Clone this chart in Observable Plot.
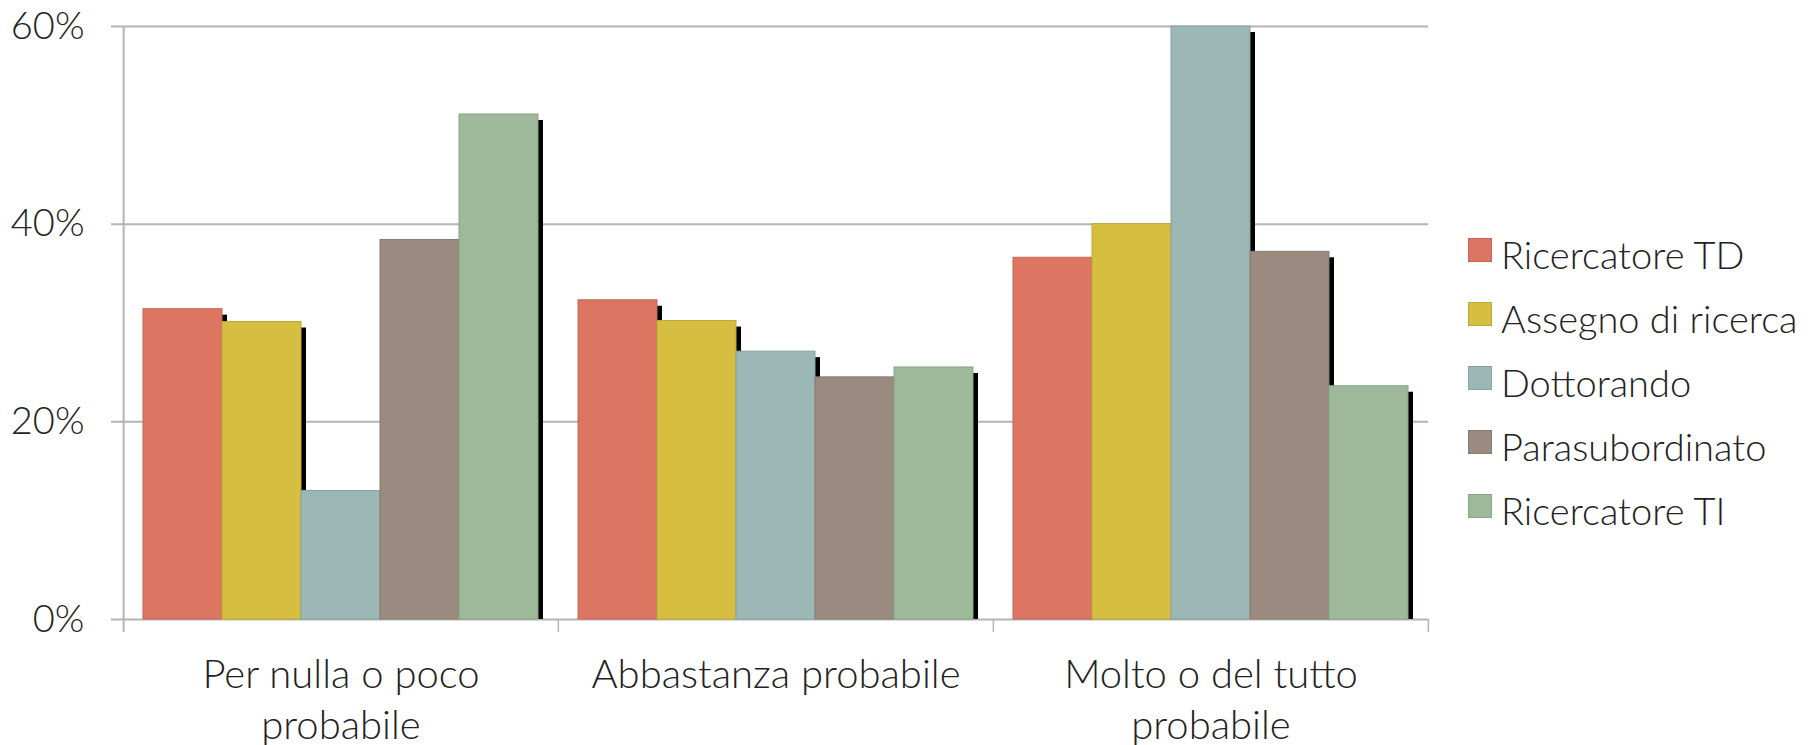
<!DOCTYPE html>
<html>
<head>
<meta charset="utf-8">
<script src="https://cdn.jsdelivr.net/npm/d3@7"></script>
<script src="https://cdn.jsdelivr.net/npm/@observablehq/plot@0.6"></script>
<style>
  html, body { margin: 0; padding: 0; background: #fff; }
  #wrap { position: relative; width: 1812px; height: 745px; overflow: hidden; font-family: Lato, "Open Sans", sans-serif; font-weight: 300; }
  #wrap svg { position: absolute; left: 0; top: 0; font-family: Lato, "Open Sans", sans-serif; font-weight: 300; }
  #legend { position: absolute; left: 1468px; top: 238px; }
  .row { position: absolute; left: 0; height: 40px; width: 340px; }
  .sw { position: absolute; left: 0; top: 0; width: 22px; height: 22px; border: 1px solid; }
  .lbl { position: absolute; left: 33px; top: -3px; font-size: 38px; line-height: 38px; color: #222; white-space: nowrap; }
</style>
</head>
<body>
<div id="wrap"><div id="legend"></div></div>
<script>
// ---- data ----
const categories = ["Per nulla o poco\nprobabile", "Abbastanza probabile", "Molto o del tutto\nprobabile"];
const series = ["Ricercatore TD", "Assegno di ricerca", "Dottorando", "Parasubordinato", "Ricercatore TI"];
const colors = ["#dd7563", "#d5be40", "#9bb8b7", "#9a8a7f", "#9db99a"];
const valuesTD = [31.4, 32.3, 36.6];
const valuesAssegno = [30.1, 30.2, 40.0];
const valuesDottorando = [13.0, 27.1, 60.0];
const valuesPara = [38.4, 24.5, 37.2];
const valuesTI = [51.1, 25.5, 23.6];
const yTicks = [0, 20, 40, 60];

const seriesValues = [valuesTD, valuesAssegno, valuesDottorando, valuesPara, valuesTI];
const rows = [];
categories.forEach((c, i) => series.forEach((s, j) => rows.push({cat: c, series: s, value: seriesValues[j][i]})));
const gridFirst = yTicks.map(y => ({cat: categories[0], y}));
const gridRest = categories.slice(1).flatMap(c => yTicks.map(y => ({cat: c, y})));

// ---- layout ----
const W = 1812, H = 745, ML = 122, MR = 384, MT = 26, MB = 126;
const PADOUT = 0.25;
const bandW = (W - ML - MR) / categories.length;
const step = bandW / (series.length + 2 * PADOUT);
const edgeOffset = PADOUT * step + step / 2;
const axisColor = "#b4b4b4";
const textColor = "#222";

const chart = Plot.plot({
  width: W, height: H,
  marginLeft: ML, marginRight: MR, marginTop: MT, marginBottom: MB,
  style: {fontFamily: "Lato, 'Open Sans', sans-serif", fontWeight: 300, color: textColor, background: "transparent", overflow: "visible"},
  fx: {domain: categories, padding: 0, label: null},
  x: {domain: series, paddingInner: 0, paddingOuter: PADOUT, axis: null},
  y: {domain: [0, 60], axis: null, label: null},
  marks: [
    // gridlines
    Plot.ruleY(gridFirst, {fx: "cat", y: "y", stroke: axisColor, strokeWidth: 2, insetLeft: -12}),
    Plot.ruleY(gridRest, {fx: "cat", y: "y", stroke: axisColor, strokeWidth: 2}),
    // left axis line
    Plot.ruleX([categories[0]], {fx: d => d, x: () => series[0], dx: -edgeOffset, stroke: axisColor, strokeWidth: 2, insetBottom: -13}),
    // boundary ticks at right edge of each group
    Plot.ruleX(categories, {fx: d => d, x: () => series[series.length - 1], dx: edgeOffset, y1: 0, y2: 0, insetBottom: -13, stroke: axisColor, strokeWidth: 1.5}),
    // shadows
    Plot.barY(rows, {fx: "cat", x: "series", y: "value", fill: "#000", dx: 5, dy: 6, insetBottom: 6}),
    // bars
    ...series.map((s, j) => Plot.barY(rows.filter(r => r.series === s), {
      fx: "cat", x: "series", y: "value",
      fill: colors[j], stroke: d3.color(colors[j]).darker(0.35).formatHex(), strokeWidth: 1
    })),
    // y axis labels
    Plot.axisY(yTicks, {label: null, tickSize: 0, tickPadding: 39, tickFormat: d => d + "%", fontSize: 38, fill: textColor, fontWeight: 300}),
    // category labels
    Plot.axisFx({anchor: "bottom", label: null, tickSize: 0, tickPadding: 32, fontSize: 40, lineHeight: 1.28, fill: textColor, fontWeight: 300})
  ]
});
document.getElementById("wrap").appendChild(chart);

// ---- legend ----
const legend = document.getElementById("legend");
series.forEach((s, j) => {
  const row = document.createElement("div");
  row.className = "row";
  row.style.top = (64 * j) + "px";
  const sw = document.createElement("div");
  sw.className = "sw";
  sw.style.background = colors[j];
  sw.style.borderColor = d3.color(colors[j]).darker(0.35).formatHex();
  const lbl = document.createElement("div");
  lbl.className = "lbl";
  lbl.textContent = s;
  row.appendChild(sw); row.appendChild(lbl);
  legend.appendChild(row);
});
</script>
</body>
</html>
